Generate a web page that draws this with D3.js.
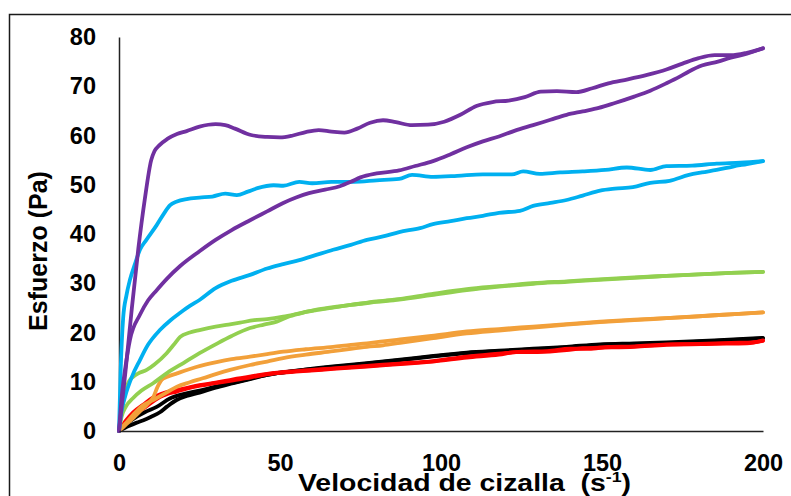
<!DOCTYPE html>
<html>
<head>
<meta charset="utf-8">
<script src="https://cdn.jsdelivr.net/npm/d3@7/dist/d3.min.js"></script>
<style>
  body { margin: 0; background: #fff; }
  svg { display: block; }
</style>
</head>
<body>
<div id="chart"></div>
<script>
// Curvas de flujo: [velocidad de cizalla (s-1), esfuerzo (Pa)], ida y vuelta por muestra
const moradoA = [[0,0],[2,12],[4,25],[6,37],[8,47],[10,55],[11,56.8],[12.5,58],[15,59.3],[18,60.3],[21,60.9],[25,61.8],[30,62.3],[33,62.1],[36,61.4],[41,60.1],[46,59.7],[50,59.6],[54,60],[58,60.7],[62,61.1],[66,60.8],[70,60.6],[74,61.4],[78,62.6],[82,63.1],[86,62.7],[91,62.1],[96,62.2],[101,62.8],[106,64.2],[111,66],[116,66.8],[121,67.1],[126,67.8],[131,68.9],[136,69],[142,68.8],[147,69.6],[152,70.6],[158,71.4],[164,72.3],[170,73.4],[175,74.6],[180,75.7],[185,76.3],[190,76.3],[195,76.8],[200,77.7]];
const moradoB = [[0,0],[1,8],[2,13],[3.4,18.5],[6.5,23.6],[9,26.5],[11.7,28.6],[15,31],[19,33.5],[25,36.5],[30,38.8],[35,40.8],[40.7,42.8],[46,44.6],[51,46.3],[55,47.4],[59,48.3],[64,49],[68.6,49.7],[72,50.6],[75,51.5],[80,52.3],[87,52.9],[92,53.8],[97.5,54.8],[103,56.2],[108,57.6],[113,58.8],[118,59.8],[123,61],[128.6,62.1],[134,63.2],[139,64.2],[144,64.9],[149,65.6],[154,66.6],[160,67.9],[165,69.1],[170,70.6],[174,71.9],[177,73],[181,74.2],[186,75],[190,75.8],[195,76.6],[200,77.7]];
const azulA = [[0,0],[0.5,12],[1.3,23],[2.3,27.5],[3.4,30.7],[5,34],[6.5,36.8],[8.5,38.8],[11.7,41.8],[14,44.2],[15.8,45.8],[18,46.6],[21,47.1],[25,47.4],[29,47.6],[33,48.2],[36.6,47.9],[40,48.6],[43,49.3],[48,49.9],[51,49.8],[56,50.6],[60,50.3],[66,50.6],[73,50.6],[80,50.9],[87,51.2],[91,52],[97.5,51.6],[105,51.8],[113,52.1],[122,52.1],[125.5,52.7],[130.7,52.2],[137,52.5],[144,52.7],[151,53],[157.7,53.5],[165,53],[170,53.8],[178,53.9],[185.6,54.3],[193,54.5],[200,54.8]];
const azulB = [[0,0],[0.8,4],[1.9,7],[4,11],[6.5,14.4],[9,17.5],[12.7,20.5],[16,22.5],[19,24],[22,25.4],[25,26.6],[30,29],[35,30.5],[40.7,31.7],[46,33],[51,33.9],[56,34.7],[61,35.7],[66.5,36.8],[72,37.8],[77,38.8],[82,39.5],[87,40.4],[93.5,41.2],[97.5,42],[103,42.6],[108,43.2],[113,43.7],[118,44.3],[124.5,44.7],[128.6,45.7],[134,46.3],[139,46.9],[144,47.8],[149.4,48.8],[154,49.2],[159.6,49.5],[165,50.4],[171,50.8],[177,52],[181,52.5],[185.6,53],[190.7,53.7],[195,54.2],[200,54.8]];
const verdeA = [[0,0],[0.8,4],[1.9,7.7],[3,10],[4.4,11],[6,11.7],[8.6,12.4],[11,13.5],[14.8,15.8],[17,17.5],[19,19.1],[22,20],[25,20.5],[30,21.2],[34,21.6],[37.6,22],[42,22.5],[46,22.7],[51,23.2],[56,23.9],[61,24.6],[66,25.1],[72,25.6],[80,26.3],[87,26.8],[97,27.8],[108,28.8],[118,29.4],[128.6,30],[139,30.4],[149,30.8],[160,31.2],[170,31.5],[180,31.8],[190,32.1],[200,32.3]];
const verdeB = [[0,0],[0.8,2.9],[2,4.8],[4.4,6.7],[7,8.2],[10.6,9.7],[15,11.8],[20,13.8],[25,15.8],[30,17.6],[35,19.3],[40.7,20.9],[45,21.6],[49,22.2],[53,23.3],[57,24],[61,24.5],[66,25],[72,25.6],[80,26.2],[87,26.7],[97,27.6],[108,28.6],[118,29.3],[128.6,29.9],[139,30.3],[149,30.7],[160,31.1],[170,31.5],[180,31.8],[190,32.1],[200,32.3]];
const naranjaA = [[0,0],[2,1.2],[4.4,2.6],[6.5,4],[8.6,5.3],[10.6,6.8],[12,9],[13.3,10.4],[15,11],[18,11.7],[24,13],[30.3,14],[35,14.6],[40.7,15.1],[46,15.6],[51,16.1],[58,16.6],[66.5,17.1],[72,17.5],[77,17.8],[82,18.2],[87.3,18.6],[97,19.3],[108,20.2],[118,20.7],[128.6,21.2],[139,21.7],[149.4,22.2],[160,22.6],[170,22.9],[185,23.5],[200,24.1]];
const naranjaB = [[0,0],[2,1.5],[4.4,3.3],[7,5],[10.6,6.3],[15,7.9],[18,9],[22,9.9],[26,10.7],[30.3,11.6],[34.5,12.4],[40.7,13.4],[46,14.1],[51,14.8],[58,15.5],[66.5,16.2],[72,16.7],[77,17.1],[82,17.4],[87.3,17.9],[97,18.8],[108,19.8],[118,20.4],[128.6,21],[139,21.6],[149.4,22.1],[160,22.5],[170,22.9],[185,23.5],[200,24.1]];
const negroA = [[0,0],[3,1],[5.5,1.7],[7.6,2.2],[10,2.9],[12.7,3.8],[15,5],[17.9,6.3],[21,7.1],[25,7.8],[30,8.8],[35.5,9.7],[41,10.6],[46,11.4],[56,12.3],[66.5,13],[77,13.7],[87.3,14.4],[97,15.1],[108,15.8],[118,16.2],[128.6,16.6],[139,17],[149.4,17.5],[160,17.7],[170,17.8],[185,18.3],[200,18.8]];
const negroB = [[0,0],[2,1.3],[5.5,2.9],[8,3.8],[11.7,4.9],[15.8,6.6],[20,7.5],[25,8.2],[30,9],[35.5,9.8],[41,10.7],[46,11.4],[56,12.3],[66.5,13.1],[77,13.8],[87.3,14.5],[97,15.2],[108,15.9],[118,16.3],[128.6,16.7],[139,17.1],[149.4,17.6],[160,17.8],[170,18],[185,18.4],[200,18.9]];
const rojoA = [[0,0],[2,1.6],[4.4,3.2],[7.6,4.6],[10.6,6],[12.7,6.9],[15,7.5],[17.9,8],[21,8.6],[25.2,9.2],[30,9.7],[35.5,10.3],[41,10.9],[45.9,11.5],[56,12.1],[66.5,12.6],[77,13.1],[87.3,13.6],[97.5,14.1],[108,14.9],[118,15.5],[123.5,16],[130,16],[139,16.4],[144,16.8],[149,16.9],[160,17.1],[170,17.5],[185,17.7],[195,17.8],[200,18.4]];
const rojoB = [[0,0],[2,2],[4.4,3.8],[7.6,5.4],[10.6,6.8],[13,7.5],[16,8.1],[20,8.6],[25,9.3],[30,9.8],[35.5,10.5],[41,11.1],[46,11.6],[56,12.2],[66.5,12.7],[77,13.2],[87,13.7],[97.5,14.2],[108,15.1],[118,15.7],[125,16.1],[133,16.2],[140,16.7],[146,16.7],[152,17.1],[160,17.2],[170,17.6],[180,17.7],[190,17.9],[197,18],[200,18.3]];

const xTicks = [0, 50, 100, 150, 200];
const yTicks = [0, 10, 20, 30, 40, 50, 60, 70, 80];

// orden de dibujo: el último queda encima
const series = [
    { name: 'negro A', color: '#000000', data: negroA },
    { name: 'negro B', color: '#000000', data: negroB },
    { name: 'rojo A', color: '#ff0000', data: rojoA },
    { name: 'rojo B', color: '#ff0000', data: rojoB },
    { name: 'naranja A', color: '#f2a03a', data: naranjaA },
    { name: 'naranja B', color: '#f2a03a', data: naranjaB },
    { name: 'verde A', color: '#92d050', data: verdeA },
    { name: 'verde B', color: '#92d050', data: verdeB },
    { name: 'azul A', color: '#00b0f0', data: azulA },
    { name: 'azul B', color: '#00b0f0', data: azulB },
    { name: 'morado A', color: '#7030a0', data: moradoA },
    { name: 'morado B', color: '#7030a0', data: moradoB }
];

const width = 791, height = 496;
const font = '"Liberation Sans", Arial, sans-serif';

const svg = d3.select('#chart')
    .append('svg')
    .attr('width', width)
    .attr('height', height);

// marco del gráfico (se sale por la derecha y por abajo)
svg.append('rect')
    .attr('x', 9.5).attr('y', 14.5)
    .attr('width', 900).attr('height', 600)
    .attr('fill', 'none')
    .attr('stroke', '#1a1a1a')
    .attr('stroke-width', 1.5);

const x = d3.scaleLinear().domain([0, 200]).range([119, 763]);
const y = d3.scaleLinear().domain([0, 80]).range([431, 37]);

const yAxis = svg.append('g')
    .attr('transform', `translate(${x(0)},0)`)
    .call(d3.axisLeft(y).tickValues(yTicks).tickSize(0).tickSizeOuter(0).tickPadding(23));
const xAxis = svg.append('g')
    .attr('transform', `translate(0,${y(0)})`)
    .call(d3.axisBottom(x).tickValues(xTicks).tickSize(0).tickSizeOuter(0).tickPadding(23));

[yAxis, xAxis].forEach(g => {
    g.select('.domain').attr('stroke', '#222').attr('stroke-width', 1.5);
    g.selectAll('text')
        .attr('font-family', font)
        .attr('font-size', 23.5)
        .attr('font-weight', 'bold')
        .attr('fill', '#000');
});

const line = d3.line()
    .x(d => x(d[0]))
    .y(d => y(d[1]))
    .curve(d3.curveMonotoneX);

svg.append('g')
    .selectAll('path')
    .data(series)
    .enter()
    .append('path')
    .attr('d', d => line(d.data))
    .attr('fill', 'none')
    .attr('stroke', d => d.color)
    .attr('stroke-width', 3.8)
    .attr('stroke-linejoin', 'round')
    .attr('stroke-linecap', 'round');

xAxis.raise();

// títulos de los ejes
svg.append('text')
    .attr('transform', 'translate(47,251) rotate(-90)')
    .attr('text-anchor', 'middle')
    .attr('font-family', font)
    .attr('font-size', 25)
    .attr('font-weight', 'bold')
    .text('Esfuerzo (Pa)');

const xTitle = svg.append('text')
    .attr('x', 298)
    .attr('y', 491)
    .attr('font-family', font)
    .attr('font-size', 24)
    .attr('font-weight', 'bold')
    .attr('textLength', 333)
    .attr('lengthAdjust', 'spacingAndGlyphs')
    .attr('xml:space', 'preserve');
xTitle.append('tspan').text('Velocidad de cizalla  (s');
xTitle.append('tspan').attr('dy', -9).attr('font-size', 15).text('-1');
xTitle.append('tspan').attr('dy', 9).text(')');
</script>
</body>
</html>
